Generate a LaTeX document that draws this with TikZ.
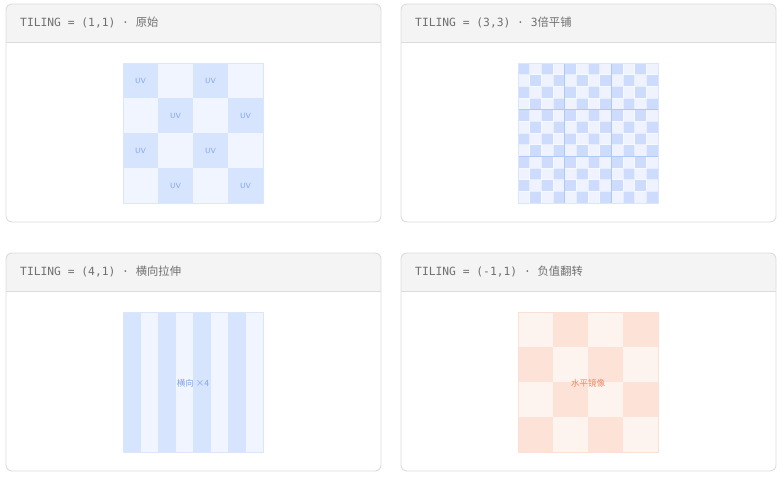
\documentclass[tikz,border=0pt]{standalone}
\usepackage{fontspec}
\setmainfont{Liberation Sans}
\setmonofont{DejaVu Sans Mono}
\newfontfamily\cjk{Noto Sans CJK SC}
\usetikzlibrary{positioning}

\definecolor{cardline}{HTML}{DCDCDC}
\definecolor{headgray}{HTML}{F4F4F4}
\definecolor{titlegray}{HTML}{707070}
\definecolor{bluedark}{HTML}{D6E4FE}
\definecolor{bluelight}{HTML}{F0F5FF}
\definecolor{bluedense}{HTML}{CDDCFC}
\definecolor{bluepale}{HTML}{EEF3FF}
\definecolor{blueseam}{HTML}{AFC8F8}
\definecolor{blueedge}{HTML}{DCE6FB}
\definecolor{uvblue}{HTML}{7FA3F2}
\definecolor{orangedark}{HTML}{FDE2D7}
\definecolor{orangelight}{HTML}{FDF3EF}
\definecolor{orangeedge}{HTML}{FBE0D5}
\definecolor{mirrortext}{HTML}{F4875A}

\tikzset{
  card/.style={draw=cardline, line width=0.9pt, rounded corners=6pt},
  title/.style={anchor=west, inner sep=0pt, text=titlegray,
    font=\ttfamily\fontsize{11.3}{13}\selectfont},
  uvtag/.style={inner sep=0pt, text=uvblue,
    font=\sffamily\fontsize{7.5}{8}\selectfont},
  midtag/.style={inner sep=0pt, font=\cjk\fontsize{8.5}{10}\selectfont},
}

% one card: #1 left, #2 top, #3 name, #4 title
\newcommand{\tilecard}[4]{
  \fill[white, rounded corners=6pt] (#1,#2) rectangle ++(375,218);
  \fill[headgray] (#1,#2+38) [rounded corners=6pt] -- (#1,#2) -- (#1+375,#2)
    [sharp corners] -- (#1+375,#2+38) -- cycle;
  \draw[cardline, line width=0.9pt] (#1,#2+38) -- ++(375,0);
  \draw[card] (#1,#2) rectangle ++(375,218);
  \node[title] (#3) at (#1+14,#2+18.5) {#4};
}

\begin{document}
\begin{tikzpicture}[x=1pt, y=-1pt]
\useasboundingbox (0,0) rectangle (783,478);

\tilecard{6}{4}{orig}{TILING = (1,1) · {\cjk 原始}}
\tilecard{401}{4}{tri}{TILING = (3,3) · 3{\cjk 倍平铺}}
\tilecard{6}{253}{wide}{TILING = (4,1) · {\cjk 横向拉伸}}
\tilecard{401}{253}{flip}{TILING = (-1,1) · {\cjk 负值翻转}}

% (1,1): 4x4 checker with UV marks
\foreach \i in {0,...,3}
  \foreach \j in {0,...,3} {
    \pgfmathtruncatemacro{\odd}{mod(\i+\j,2)}
    \ifnum\odd=0
      \fill[bluedark] (123+35*\i,63+35*\j) rectangle ++(35,35);
      \node[uvtag] (uv\i\j) at (140.5+35*\i,80.5+35*\j) {UV};
    \else
      \fill[bluelight] (123+35*\i,63+35*\j) rectangle ++(35,35);
    \fi
  }
\draw[blueedge, line width=0.8pt] (123,63) rectangle ++(140,140);

% (3,3): 12x12 checker, seams every 4 cells
\foreach \i in {0,...,11}
  \foreach \j in {0,...,11} {
    \pgfmathtruncatemacro{\odd}{mod(\i+\j,2)}
    \ifnum\odd=0
      \fill[bluedense] (518+140/12*\i,63+140/12*\j) rectangle ++(140/12,140/12);
    \else
      \fill[bluepale] (518+140/12*\i,63+140/12*\j) rectangle ++(140/12,140/12);
    \fi
  }
\foreach \k in {1,...,11}
  \draw[white, opacity=0.5, line width=0.4pt] (518+140/12*\k,63) -- ++(0,140)
        (518,63+140/12*\k) -- ++(140,0);
\foreach \k in {1,2}
  \draw[blueseam, line width=0.8pt] (518+140/3*\k,63) -- ++(0,140)
        (518,63+140/3*\k) -- ++(140,0);
\draw[blueedge, line width=0.8pt] (518,63) rectangle ++(140,140);

% (4,1): vertical stripes
\foreach \i in {0,...,7} {
  \pgfmathtruncatemacro{\odd}{mod(\i,2)}
  \ifnum\odd=0
    \fill[bluedark] (123+17.5*\i,312) rectangle ++(17.5,140);
  \else
    \fill[bluelight] (123+17.5*\i,312) rectangle ++(17.5,140);
  \fi
}
\draw[blueedge, line width=0.8pt] (123,312) rectangle ++(140,140);
\node[midtag, text=uvblue] (stretch) at (193,383) {横向 ×4};

% (-1,1): mirrored checker
\foreach \i in {0,...,3}
  \foreach \j in {0,...,3} {
    \pgfmathtruncatemacro{\odd}{mod(\i+\j,2)}
    \ifnum\odd=1
      \fill[orangedark] (518+35*\i,312+35*\j) rectangle ++(35,35);
    \else
      \fill[orangelight] (518+35*\i,312+35*\j) rectangle ++(35,35);
    \fi
  }
\draw[orangeedge, line width=0.8pt] (518,312) rectangle ++(140,140);
\node[midtag, text=mirrortext] (mirror) at (588,383) {水平镜像};

\end{tikzpicture}
\end{document}
